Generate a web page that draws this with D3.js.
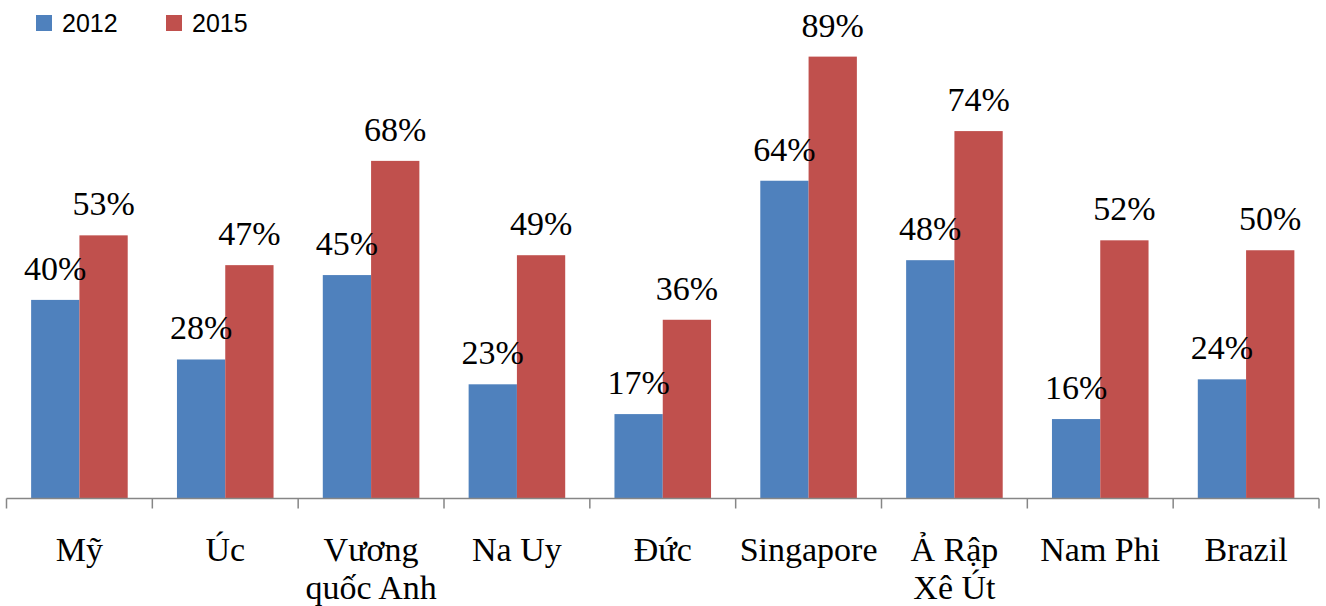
<!DOCTYPE html>
<html>
<head>
<meta charset="utf-8">
<script src="https://cdn.jsdelivr.net/npm/d3@7"></script>
<style>
  html, body { margin: 0; padding: 0; background: #ffffff; }
  svg { display: block; }
</style>
</head>
<body>
<svg id="chart" width="1326" height="606"></svg>
<script>
// Share (%) by country, 2012 vs 2015
const categories = ["Mỹ", "Úc", "Vương quốc Anh", "Na Uy", "Đức", "Singapore", "Ả Rập Xê Út", "Nam Phi", "Brazil"];
const categoryLines = [["Mỹ"], ["Úc"], ["Vương", "quốc Anh"], ["Na Uy"], ["Đức"], ["Singapore"], ["Ả Rập", "Xê Út"], ["Nam Phi"], ["Brazil"]];
const seriesNames = ["2012", "2015"];
const values2012 = [40, 28, 45, 23, 17, 64, 48, 16, 24];
const values2015 = [53, 47, 68, 49, 36, 89, 74, 52, 50];
const seriesColors = ["#4F81BD", "#C0504D"];

const svg = d3.select("#chart");

const x0 = d3.scaleBand().domain(categories).range([6.5, 1319]).paddingInner(0).paddingOuter(0);
const x1 = d3.scaleBand().domain(seriesNames).range([0, x0.bandwidth()]).paddingInner(0).paddingOuter(0.51);
const y = d3.scaleLinear().domain([0, 100]).range([498.5, 2]);

const rows = categories.map((c, i) => ({ cat: c, lines: categoryLines[i], vals: [values2012[i], values2015[i]] }));

// Bars
const groups = svg.append("g").selectAll("g")
  .data(rows).join("g")
  .attr("transform", d => `translate(${x0(d.cat)},0)`);

groups.selectAll("rect")
  .data(d => d.vals.map((v, k) => ({ key: seriesNames[k], v, k })))
  .join("rect")
  .attr("x", d => x1(d.key))
  .attr("y", d => y(d.v))
  .attr("width", x1.bandwidth())
  .attr("height", d => y(0) - y(d.v))
  .attr("fill", d => seriesColors[d.k]);

// Value labels
groups.selectAll("text.val")
  .data(d => d.vals.map((v, k) => ({ key: seriesNames[k], v, k })))
  .join("text")
  .attr("class", "val")
  .attr("x", d => x1(d.key) + x1.bandwidth() / 2)
  .attr("y", d => y(d.v) - 20)
  .attr("text-anchor", "middle")
  .attr("font-family", "'Liberation Serif', 'Times New Roman', serif")
  .attr("font-size", 34)
  .attr("fill", "#000")
  .text(d => d.v + "%");

// Category axis: line with ticks at band boundaries
const axisColor = "#868686";
const axisY = y(0);
const boundaries = categories.map(c => x0(c)).concat([x0(categories[categories.length - 1]) + x0.bandwidth()]);
const axis = svg.append("g");
axis.append("line")
  .attr("x1", boundaries[0]).attr("x2", boundaries[boundaries.length - 1])
  .attr("y1", axisY).attr("y2", axisY)
  .attr("stroke", axisColor).attr("stroke-width", 1.5);
axis.selectAll("line.tick")
  .data(boundaries).join("line")
  .attr("class", "tick")
  .attr("x1", d => d).attr("x2", d => d)
  .attr("y1", axisY).attr("y2", axisY + 10)
  .attr("stroke", axisColor).attr("stroke-width", 1.5);

// Category labels
const catText = axis.selectAll("text.cat")
  .data(rows).join("text")
  .attr("class", "cat")
  .attr("x", d => x0(d.cat) + x0.bandwidth() / 2)
  .attr("y", 561)
  .attr("text-anchor", "middle")
  .attr("font-family", "'Liberation Serif', 'Times New Roman', serif")
  .attr("font-size", 34)
  .attr("fill", "#000");
catText.selectAll("tspan")
  .data(d => d.lines.map(t => ({ t, cx: x0(d.cat) + x0.bandwidth() / 2 })))
  .join("tspan")
  .attr("x", d => d.cx)
  .attr("dy", (d, i) => i === 0 ? 0 : 38)
  .text(d => d.t);

// Legend
const legendX = [36, 166];
const legend = svg.append("g").selectAll("g")
  .data(seriesNames).join("g")
  .attr("transform", (d, i) => `translate(${legendX[i]},15)`);
legend.append("rect")
  .attr("width", 16).attr("height", 16)
  .attr("fill", (d, i) => seriesColors[i]);
legend.append("text")
  .attr("x", 26).attr("y", 16.5)
  .attr("font-family", "'Liberation Sans', Arial, sans-serif")
  .attr("font-size", 25)
  .attr("fill", "#000")
  .text(d => d);
</script>
</body>
</html>
